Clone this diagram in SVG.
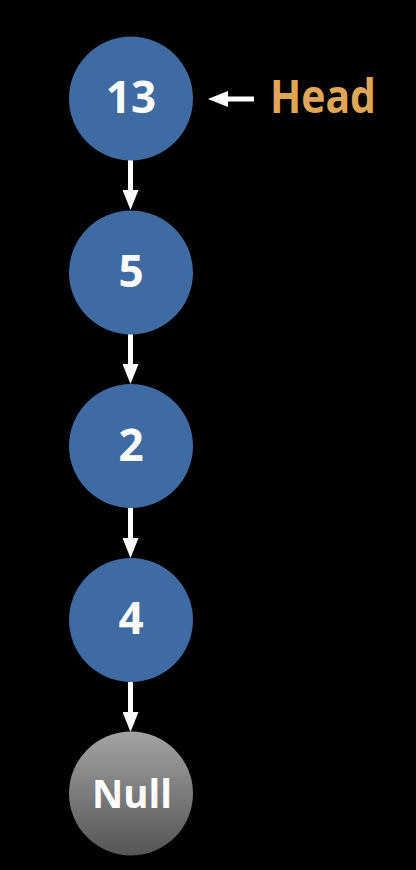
<svg xmlns="http://www.w3.org/2000/svg" width="416" height="870" viewBox="0 0 416 870">
<style>
.node{fill:#3f6ba2}
.lbl{font-family:"Open Sans","Liberation Sans",sans-serif;font-weight:bold;fill:#ffffff;text-anchor:middle}
.conn line{stroke:#ffffff;stroke-width:5}
.head{font-family:"Open Sans","Liberation Sans",sans-serif;font-weight:bold;fill:#e1a756;font-size:47px}
</style>
<defs>
<linearGradient id="gnull" x1="0" y1="0" x2="0" y2="1">
<stop offset="0" stop-color="#a3a3a3"/>
<stop offset="1" stop-color="#555555"/>
</linearGradient>
<marker id="ah" markerWidth="20" markerHeight="16" refX="0" refY="8" orient="auto" markerUnits="userSpaceOnUse" viewBox="0 0 20 16">
<path d="M0,0 L20,8 L0,16 Z" fill="#ffffff"/>
</marker>
</defs>
<rect width="416" height="870" fill="#000000"/>
<g id="connectors" class="conn">
<line x1="130.5" y1="160" x2="130.5" y2="190" marker-end="url(#ah)"/>
<line x1="130.5" y1="334" x2="130.5" y2="364" marker-end="url(#ah)"/>
<line x1="130.5" y1="508" x2="130.5" y2="538" marker-end="url(#ah)"/>
<line x1="130.5" y1="682" x2="130.5" y2="712" marker-end="url(#ah)"/>
<line x1="254" y1="99" x2="228" y2="99" marker-end="url(#ah)"/>
</g>
<g id="n13"><circle class="node" cx="131" cy="98.5" r="62"/><text class="lbl" x="131" y="113" font-size="44">13</text></g>
<g id="n5"><circle class="node" cx="131" cy="272.5" r="62"/><text class="lbl" x="131" y="287" font-size="44">5</text></g>
<g id="n2"><circle class="node" cx="131" cy="446" r="62"/><text class="lbl" x="131" y="460.5" font-size="44">2</text></g>
<g id="n4"><circle class="node" cx="131" cy="620" r="62"/><text class="lbl" x="131" y="634" font-size="44">4</text></g>
<g id="nnull"><circle cx="131" cy="793.5" r="62" fill="url(#gnull)"/><text class="lbl" x="132" y="808" font-size="39" textLength="80" lengthAdjust="spacingAndGlyphs">Null</text></g>
<g id="headlabel"><text class="head" x="270" y="113" textLength="106" lengthAdjust="spacingAndGlyphs">Head</text></g>
</svg>
